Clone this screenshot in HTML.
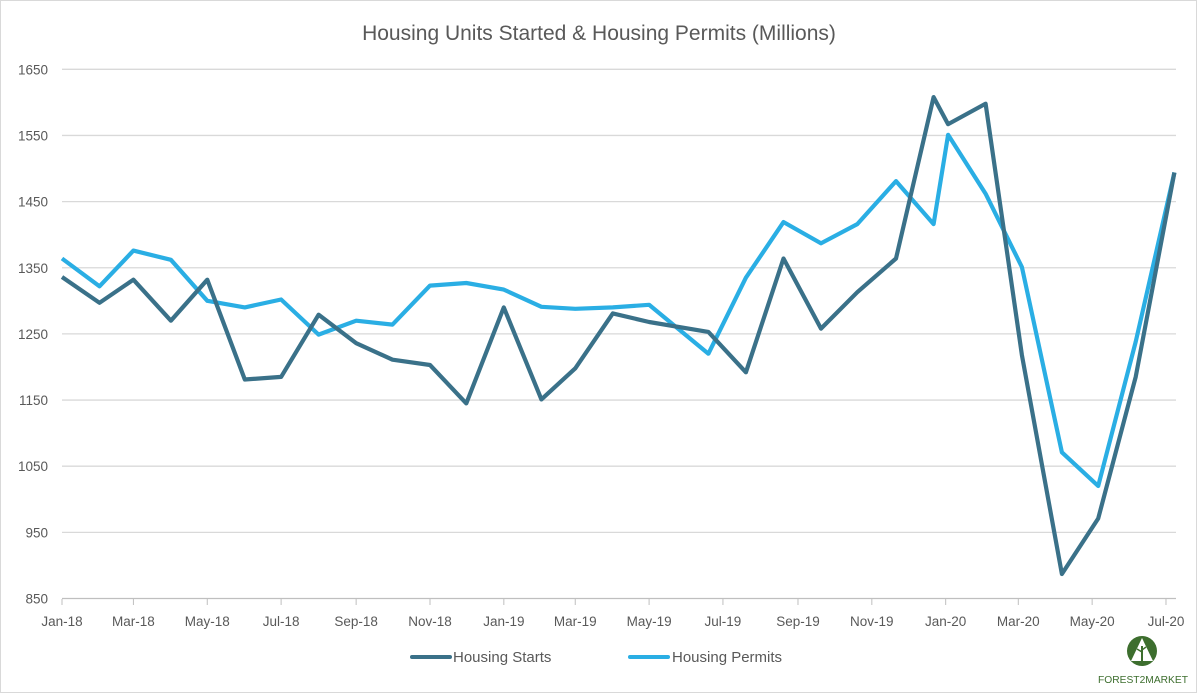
<!DOCTYPE html>
<html><head><meta charset="utf-8"><style>
body{margin:0;background:#fff;}
svg{display:block;font-family:"Liberation Sans",sans-serif;}
</style></head><body>
<svg id="chart" width="1200" height="697" viewBox="0 0 1200 697">
<rect x="0.5" y="0.5" width="1196" height="692" fill="#fff" stroke="#d9d9d9"/>
<text x="599" y="40" text-anchor="middle" font-size="21" fill="#595959">Housing Units Started &amp; Housing Permits (Millions)</text>
<g id="grid"></g><g id="yticks"></g><g id="xticks"></g><g id="series"></g>
<g>
<line x1="412" y1="657" x2="450" y2="657" stroke="#3a7189" stroke-width="4" stroke-linecap="round"/>
<text x="453" y="662" font-size="15" fill="#595959">Housing Starts</text>
<line x1="630" y1="657" x2="668" y2="657" stroke="#2aaee4" stroke-width="4" stroke-linecap="round"/>
<text x="672" y="662" font-size="15" fill="#595959">Housing Permits</text>
</g>
<g>
<circle cx="1142" cy="651" r="15" fill="#3d6e2e"/>
<polygon points="1142,638 1131,661 1153,661" fill="#fff"/>
<line x1="1142" y1="661" x2="1142" y2="646" stroke="#3d6e2e" stroke-width="2"/>
<line x1="1142" y1="652" x2="1137" y2="649" stroke="#3d6e2e" stroke-width="1.5"/>
<line x1="1142" y1="650" x2="1146" y2="647" stroke="#3d6e2e" stroke-width="1.5"/>
<text x="1143" y="683" text-anchor="middle" font-size="10.5" textLength="90" lengthAdjust="spacingAndGlyphs" fill="#3d6e2e">FOREST2MARKET</text>
</g>
</svg>
<script>
const dates=['2018-01-01','2018-02-01','2018-03-01','2018-04-01','2018-05-01','2018-06-01','2018-07-01','2018-08-01','2018-09-01','2018-10-01','2018-11-01','2018-12-01','2019-01-01','2019-02-01','2019-03-01','2019-04-01','2019-05-01','2019-06-19','2019-07-20','2019-08-20','2019-09-20','2019-10-20','2019-11-21','2019-12-22','2020-01-03','2020-02-03','2020-03-04','2020-04-06','2020-05-06','2020-06-06','2020-07-08'];
const starts=[1336,1297,1332,1270,1332,1181,1185,1279,1236,1211,1203,1145,1290,1151,1198,1281,1268,1253,1192,1364,1258,1313,1364,1608,1567,1598,1218,887,971,1185,1494];
const permits=[1364,1322,1376,1362,1300,1290,1302,1249,1270,1264,1323,1327,1317,1291,1288,1290,1294,1220,1335,1419,1387,1416,1481,1416,1551,1462,1351,1071,1020,1238,1494];
const yTicks=[850,950,1050,1150,1250,1350,1450,1550,1650];
const xTickLabels=['Jan-18','Mar-18','May-18','Jul-18','Sep-18','Nov-18','Jan-19','Mar-19','May-19','Jul-19','Sep-19','Nov-19','Jan-20','Mar-20','May-20','Jul-20'];
const xTickDates=['2018-01-01','2018-03-01','2018-05-01','2018-07-01','2018-09-01','2018-11-01','2019-01-01','2019-03-01','2019-05-01','2019-07-01','2019-09-01','2019-11-01','2020-01-01','2020-03-01','2020-05-01','2020-07-01'];
const NS='http://www.w3.org/2000/svg';
const t0=Date.UTC(2018,0,1);
function day(s){const p=s.split('-');return (Date.UTC(+p[0],+p[1]-1,+p[2])-t0)/86400000;}
function X(s){return 62+day(s)*1.2105;}
function Y(v){return 598.5-(v-850)*0.6615;}
function mk(tag,attrs,parent){const e=document.createElementNS(NS,tag);for(const k in attrs)e.setAttribute(k,attrs[k]);parent.appendChild(e);return e;}
const grid=document.getElementById('grid'),yt=document.getElementById('yticks'),xt=document.getElementById('xticks'),ser=document.getElementById('series');
yTicks.forEach(v=>{
 const l=mk('line',{x1:62,x2:1176,y1:Y(v),y2:Y(v),stroke:v===850?'#bfbfbf':'#d9d9d9','stroke-width':1.3},grid);
 
 
 const t=mk('text',{x:48,y:Y(v)+5,'text-anchor':'end','font-size':13.5,fill:'#595959'},yt);
 t.textContent=v;
 
 
});
xTickDates.forEach((d,i)=>{
 const x=X(d);
 mk('line',{x1:x,x2:x,y1:599,y2:605,stroke:'#bfbfbf'},xt);
 const t=mk('text',{x:x,y:626,'text-anchor':'middle','font-size':13.5,fill:'#595959'},xt);
 t.textContent=xTickLabels[i];
 
 
});
function line(vals,color,name){
 const pts=vals.map((v,i)=>X(dates[i]).toFixed(1)+','+Y(v).toFixed(1)).join(' ');
 const p=mk('polyline',{points:pts,fill:'none',stroke:color,'stroke-width':4.2,'stroke-linejoin':'round'},ser);
 
 
}
line(permits,'#2aaee4','housing-permits-line');
line(starts,'#3a7189','housing-starts-line');
</script>
</body></html>
